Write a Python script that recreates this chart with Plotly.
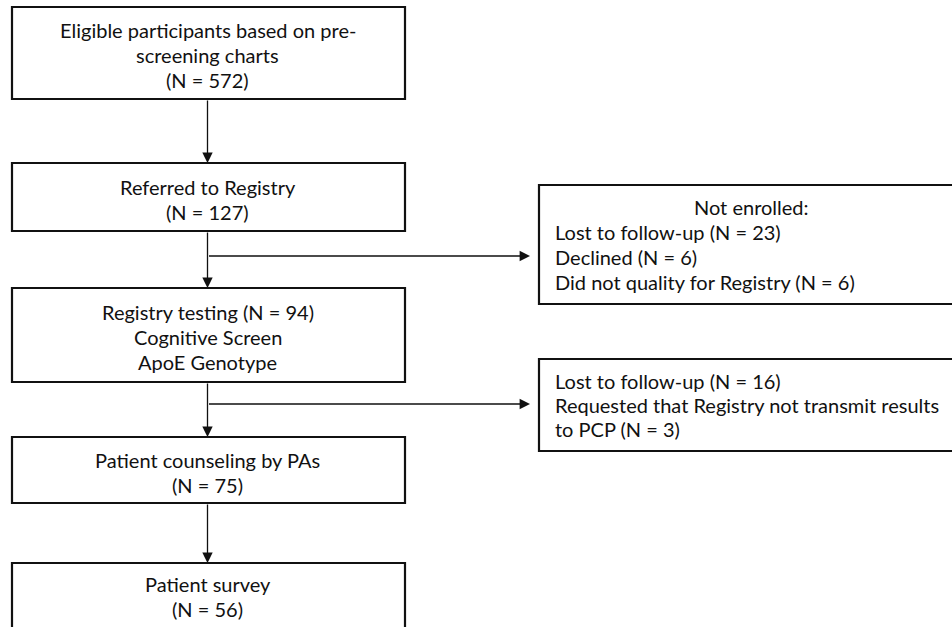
import plotly.graph_objects as go

# ---- content ----
main_labels = [
    ["Eligible participants based on pre-", "screening charts"],
    ["Referred to Registry"],
    ["Registry testing (N = 94)", "Cognitive Screen", "ApoE Genotype"],
    ["Patient counseling by PAs"],
    ["Patient survey"],
]
main_n = [572, 127, None, 75, 56]

side_title = ["Not enrolled:", ""]
side_lines = [
    ["Lost to follow-up (N = 23)", "Declined (N = 6)", "Did not quality for Registry (N = 6)"],
    ["Lost to follow-up (N = 16)", "Requested that Registry not transmit results", "to PCP (N = 3)"],
]

# ---- layout (pixel geometry) ----
W, H = 952, 627
MX0, MX1 = 12, 405
MCX = (MX0 + MX1) / 2 - 1
main_y = [(7, 99), (163, 231), (288, 382), (437, 503), (563, 632)]
SX0, SX1 = 539, 965
side_y = [(185, 304), (359, 451)]
branch_y = [256, 404]
LH_MAIN = 25
LH_SIDE = [25, 24]
FONT = dict(family="Lato, 'Open Sans', sans-serif", size=20, color="#111111")

fig = go.Figure()
shapes, annots = [], []

def box(x0, x1, y0, y1):
    shapes.append(dict(type="rect", xref="x", yref="y", x0=x0, x1=x1, y0=y0, y1=y1,
                       line=dict(color="#111", width=2.2), fillcolor="white", layer="below"))

def text(x, y, t, anchor="center"):
    annots.append(dict(x=x, y=y, xref="x", yref="y", text=t, showarrow=False,
                       xanchor=anchor, yanchor="middle", font=FONT))

def arrow(x0, y0, x1, y1):
    annots.append(dict(x=x1, y=y1, ax=x0, ay=y0, xref="x", yref="y", axref="x", ayref="y",
                       text="", showarrow=True, arrowhead=2, arrowsize=1.6, arrowwidth=1.3,
                       arrowcolor="#111", standoff=0, startstandoff=0))

for i, (lines, n) in enumerate(zip(main_labels, main_n)):
    y0, y1 = main_y[i]
    box(MX0, MX1, y0, y1)
    all_lines = lines + ([f"(N = {n})"] if n is not None else [])
    cy = (y0 + y1) / 2 + 2 if y1 <= H else y0 + 33
    start = cy - LH_MAIN * (len(all_lines) - 1) / 2
    for k, t in enumerate(all_lines):
        text(MCX, start + k * LH_MAIN, t)

for i in range(len(main_y) - 1):
    arrow(MCX, main_y[i][1], MCX, main_y[i + 1][0])

for j, (y0, y1) in enumerate(side_y):
    box(SX0, SX1, y0, y1)
    lines = ([side_title[j]] if side_title[j] else []) + side_lines[j]
    lh = LH_SIDE[j]
    cy = (y0 + y1) / 2
    start = cy - lh * (len(lines) - 1) / 2
    for k, t in enumerate(lines):
        if side_title[j] and k == 0:
            text((SX0 + SX1) / 2 - 1, start, t)
        else:
            text(553, start + k * lh, t, anchor="left")
    arrow(MCX, branch_y[j], SX0 - 9, branch_y[j])

fig.update_layout(
    width=W, height=H, margin=dict(l=0, r=0, t=0, b=0),
    paper_bgcolor="white", plot_bgcolor="white",
    xaxis=dict(range=[0, W], visible=False, fixedrange=True),
    yaxis=dict(range=[H, 0], visible=False, fixedrange=True),
    shapes=shapes, annotations=annots, showlegend=False,
)
fig.write_html("out.html", config={"displayModeBar": False},
               post_script="document.body.style.margin='0';document.body.style.overflow='hidden';")
